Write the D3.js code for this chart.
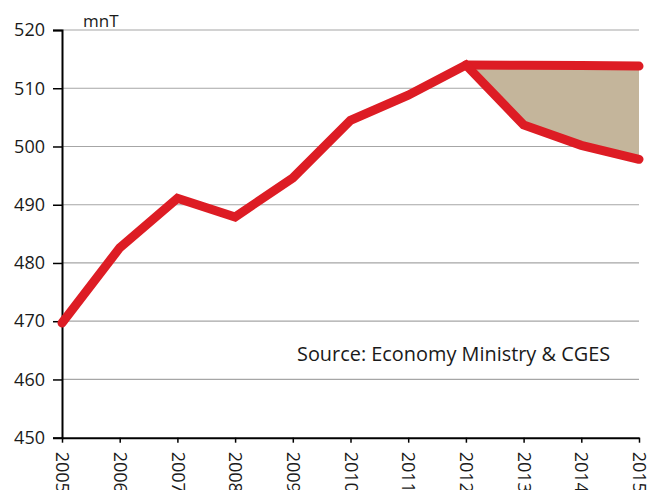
<!DOCTYPE html>
<html>
<head>
<meta charset="utf-8">
<script src="https://cdn.jsdelivr.net/npm/d3@7"></script>
<style>
  html, body { margin: 0; padding: 0; background: #fff; }
  svg { display: block; }
  text { font-family: "Open Sans", "Noto Sans", sans-serif; fill: #1a1a1a; }
</style>
</head>
<body>
<svg id="chart" width="659" height="490"></svg>
<script>
const years = ["2005","2006","2007","2008","2009","2010","2011","2012","2013","2014","2015"];
const actual = [469.7, 482.6, 491.1, 487.9, 494.6, 504.5, 508.8, 514.0, 503.7, 500.2, 497.8];
const targetYears = ["2012","2013","2014","2015"];
const targetValues = [514.0, 513.95, 513.9, 513.8];
const yTicks = [450, 460, 470, 480, 490, 500, 510, 520];
const unitLabel = "mnT";
const sourceLabel = "Source: Economy Ministry & CGES";

const svg = d3.select("#chart");
const mLeft = 62, mRight = 639, mTop = 30, mBottom = 437.7;

const x = d3.scalePoint().domain(years).range([mLeft, mRight]);
const y = d3.scaleLinear().domain([450, 520]).range([mBottom, mTop]);

// gridlines
svg.append("g").selectAll("line").data(yTicks.filter(d => d !== 450)).join("line")
  .attr("x1", mLeft).attr("x2", mRight)
  .attr("y1", d => y(d)).attr("y2", d => y(d))
  .attr("stroke", "#a6a6a6").attr("stroke-width", 1.2);

// shaded gap area
const lowerMap = new Map(years.map((yr, i) => [yr, actual[i]]));
const areaData = targetYears.map((yr, i) => ({yr, hi: targetValues[i], lo: lowerMap.get(yr)}));
svg.append("path")
  .datum(areaData)
  .attr("fill", "#c4b59b")
  .attr("d", d3.area().x(d => x(d.yr)).y0(d => y(d.lo)).y1(d => y(d.hi)));

// y axis
const yAxis = svg.append("g").attr("transform", `translate(${mLeft},0)`)
  .call(d3.axisLeft(y).tickValues(yTicks).tickSize(9).tickPadding(8).tickFormat(d3.format("d")));
yAxis.select(".domain").attr("stroke", "#000").attr("stroke-width", 2);
yAxis.selectAll(".tick line").attr("stroke", "#000").attr("stroke-width", 1.5);
yAxis.selectAll(".tick text").attr("font-size", 18).attr("fill", "#1a1a1a")
  .style("font-family", "'Open Sans', sans-serif");

// x axis
const xAxis = svg.append("g").attr("transform", `translate(0,${mBottom})`)
  .call(d3.axisBottom(x).tickSize(5).tickSizeOuter(0));
xAxis.select(".domain").attr("stroke", "#000").attr("stroke-width", 2);
xAxis.selectAll(".tick line").attr("stroke", "#000").attr("stroke-width", 1.5);
xAxis.selectAll(".tick text")
  .attr("font-size", 18).attr("fill", "#1a1a1a")
  .style("font-family", "'Open Sans', sans-serif")
  .attr("text-anchor", "start")
  .attr("transform", "rotate(90)")
  .attr("x", 14).attr("y", 0).attr("dy", "0.35em");

// lines
const line = d3.line().x(d => x(d[0])).y(d => y(d[1]));
svg.append("path")
  .datum(targetYears.map((yr, i) => [yr, targetValues[i]]))
  .attr("fill", "none").attr("stroke", "#dd1c24").attr("stroke-width", 9)
  .attr("stroke-linecap", "round").attr("stroke-linejoin", "round")
  .attr("d", line);
svg.append("path")
  .datum(years.map((yr, i) => [yr, actual[i]]))
  .attr("fill", "none").attr("stroke", "#dd1c24").attr("stroke-width", 9)
  .attr("stroke-linecap", "round").attr("stroke-linejoin", "miter")
  .attr("d", line);

// labels
svg.append("text").attr("x", 83).attr("y", 27).attr("font-size", 17).text(unitLabel);
svg.append("text").attr("x", 297).attr("y", 361).attr("font-size", 19.9).text(sourceLabel);
</script>
</body>
</html>
